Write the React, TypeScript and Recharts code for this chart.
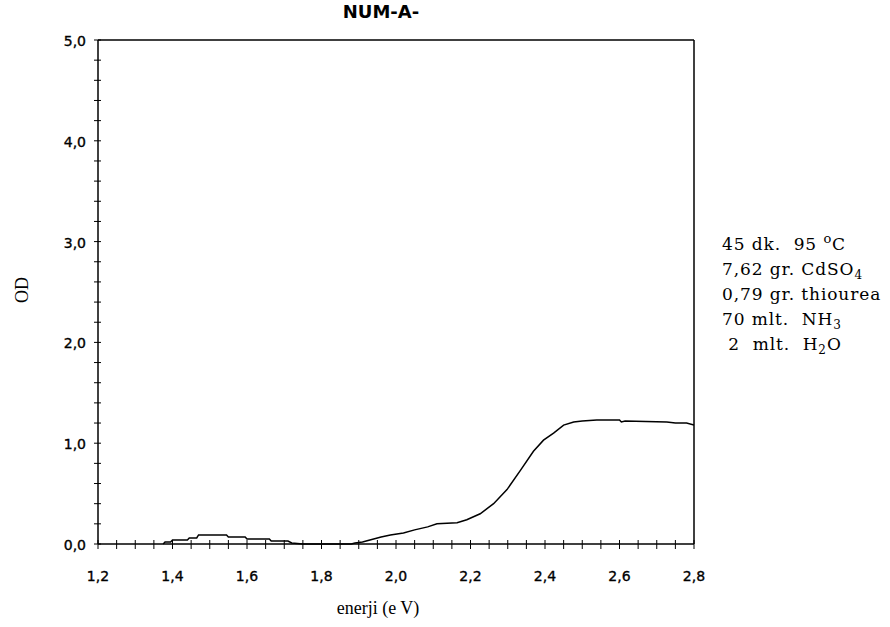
import { LineChart, Line, XAxis, YAxis, ReferenceLine } from "recharts";

const energy = [
  1.375, 1.38, 1.395, 1.4, 1.44, 1.445, 1.465, 1.47, 1.545, 1.55, 1.595, 1.6,
  1.66, 1.665, 1.71, 1.72, 1.75, 1.88, 1.89, 1.91, 1.94, 1.96, 1.985, 2.02,
  2.05, 2.085, 2.11, 2.164, 2.19, 2.226, 2.262, 2.298, 2.334, 2.369, 2.396,
  2.423, 2.45, 2.477, 2.5, 2.539, 2.6, 2.605, 2.615, 2.727, 2.75, 2.78, 2.8,
];
const od = [
  0.0, 0.02, 0.02, 0.04, 0.04, 0.06, 0.06, 0.09, 0.09, 0.07, 0.07, 0.05, 0.05,
  0.03, 0.03, 0.01, 0.0, 0.0, 0.01, 0.02, 0.05, 0.07, 0.09, 0.11, 0.14, 0.17,
  0.2, 0.21, 0.24, 0.3, 0.4, 0.54, 0.73, 0.92, 1.03, 1.1, 1.18, 1.21, 1.22,
  1.23, 1.23, 1.21, 1.22, 1.21, 1.2, 1.2, 1.18,
];

const xMajorTicks = [1.2, 1.4, 1.6, 1.8, 2.0, 2.2, 2.4, 2.6, 2.8];
const xTickLabels = ["1,2", "1,4", "1,6", "1,8", "2,0", "2,2", "2,4", "2,6", "2,8"];
const xMinorTicks = [
  1.25, 1.3, 1.35, 1.45, 1.5, 1.55, 1.65, 1.7, 1.75, 1.85, 1.9, 1.95, 2.05,
  2.1, 2.15, 2.25, 2.3, 2.35, 2.45, 2.5, 2.55, 2.65, 2.7, 2.75,
];
const yMajorTicks = [0, 1, 2, 3, 4, 5];
const yTickLabels = ["0,0", "1,0", "2,0", "3,0", "4,0", "5,0"];
const yMinorTicks = [
  0.2, 0.4, 0.6, 0.8, 1.2, 1.4, 1.6, 1.8, 2.2, 2.4, 2.6, 2.8, 3.2, 3.4, 3.6,
  3.8, 4.2, 4.4, 4.6, 4.8,
];

const data = energy.map((e, i) => ({ e, od: od[i] }));

const tickFont = {
  fontFamily: "DejaVu Sans",
  fontSize: 14,
  fill: "#000",
  stroke: "#000",
  strokeWidth: 0.35,
};
const serif = "DejaVu Serif";

function XTick({ x, y, payload }: any) {
  const i = xMajorTicks.indexOf(payload.value);
  return (
    <g>
      <line x1={x} x2={x} y1={y - 4} y2={y + 5} stroke="#000" />
      {i >= 0 && (
        <text x={x} y={y + 37} textAnchor="middle" {...tickFont}>
          {xTickLabels[i]}
        </text>
      )}
    </g>
  );
}

function YTick({ x, y, payload }: any) {
  const i = yMajorTicks.indexOf(payload.value);
  return (
    <g>
      <line x1={x - 4} x2={x + 3} y1={y} y2={y} stroke="#000" />
      {i >= 0 && (
        <text x={x - 12} y={y + 6} textAnchor="end" {...tickFont}>
          {yTickLabels[i]}
        </text>
      )}
    </g>
  );
}

const notes = [
  ["45 dk.  95 ", "sup:o", "C"],
  ["7,62 gr. CdSO", "sub:4"],
  ["0,79 gr. thiourea"],
  ["70 mlt.  NH", "sub:3"],
  [" 2  mlt.  H", "sub:2", "O"],
];

export default function App() {
  return (
    <div style={{ position: "absolute", left: 0, top: 0, width: 890, height: 627, background: "#fff" }}>
      <LineChart
        width={890}
        height={627}
        data={data}
        margin={{ top: 40, right: 196, bottom: 0, left: 1 }}
      >
        <XAxis
          dataKey="e"
          type="number"
          domain={[1.2, 2.8]}
          ticks={[...xMajorTicks, ...xMinorTicks]}
          interval={0}
          height={83}
          tickLine={false}
          tickSize={0}
          tickMargin={0}
          tick={<XTick />}
          axisLine={{ stroke: "#000", strokeWidth: 1.5 }}
          allowDataOverflow
        />
        <YAxis
          type="number"
          domain={[0, 5]}
          ticks={[...yMajorTicks, ...yMinorTicks]}
          interval={0}
          width={97}
          tickLine={false}
          tickSize={0}
          tickMargin={0}
          tick={<YTick />}
          axisLine={{ stroke: "#000", strokeWidth: 1.5 }}
        />
        <ReferenceLine y={5} stroke="#000" strokeWidth={1.5} />
        <ReferenceLine x={2.8} stroke="#000" strokeWidth={1.5} />
        <Line
          type="linear"
          dataKey="od"
          stroke="#000"
          strokeWidth={1.5}
          dot={false}
          isAnimationActive={false}
        />
      </LineChart>
      <svg width={890} height={627} style={{ position: "absolute", left: 0, top: 0, pointerEvents: "none" }}>
        <text x={381} y={18} textAnchor="middle" fontFamily="DejaVu Sans" fontWeight="bold" fontSize={18}>
          NUM-A-
        </text>
        <text x={378} y={614} textAnchor="middle" fontFamily="Liberation Serif" fontSize={18}>
          enerji (e V)
        </text>
        <text
          x={22}
          y={290}
          textAnchor="middle"
          dominantBaseline="central"
          transform="rotate(-90 22 290)"
          fontFamily="Liberation Serif"
          fontSize={18}
        >
          OD
        </text>
        {notes.map((parts, li) => (
          <text
            key={li}
            x={722}
            y={250 + li * 25}
            fontFamily={serif}
            fontSize={17}
            letterSpacing={0.9}
            style={{ whiteSpace: "pre" }}
          >
            {parts.map((p, k) =>
              p.startsWith("sub:") ? (
                <tspan key={k} fontSize={12} dy={4}>{p.slice(4)}</tspan>
              ) : p.startsWith("sup:") ? (
                <tspan key={k} fontSize={13} dy={-7}>{p.slice(4)}</tspan>
              ) : (
                <tspan key={k} dy={k > 0 ? (parts[k - 1].startsWith("sub:") ? -4 : parts[k - 1].startsWith("sup:") ? 7 : 0) : 0}>
                  {p}
                </tspan>
              )
            )}
          </text>
        ))}
      </svg>
    </div>
  );
}
